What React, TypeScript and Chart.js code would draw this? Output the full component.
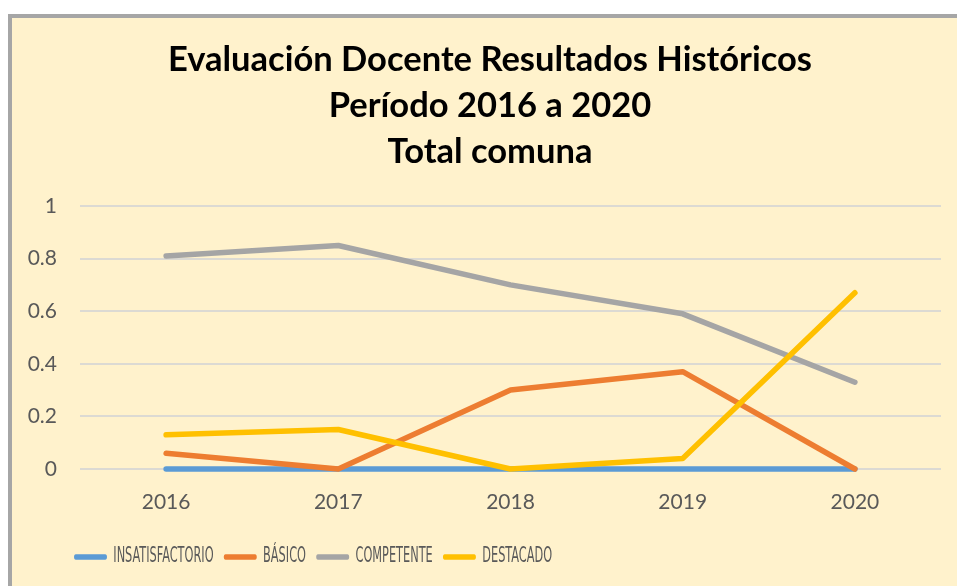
import React, { useEffect, useRef } from "react";
import { Chart, registerables } from "chart.js";

Chart.register(...registerables);

const years = ["2016", "2017", "2018", "2019", "2020"];
const insatisfactorio = [0, 0, 0, 0, 0];
const basico = [0.06, 0, 0.30, 0.37, 0];
const competente = [0.81, 0.85, 0.70, 0.59, 0.33];
const destacado = [0.13, 0.15, 0, 0.04, 0.67];
const seriesNames = ["INSATISFACTORIO", "BÁSICO", "COMPETENTE", "DESTACADO"];
const seriesColors = ["#5B9BD5", "#ED7D31", "#A5A5A5", "#FFC000"];
const titleLines = [
  "Evaluación Docente Resultados Históricos",
  "Período 2016 a 2020",
  "Total comuna",
];

const LEGEND_SQUEEZE = 0.6;
const LEGEND_PAD = 17;

const boxShift = {
  id: "boxShift",
  afterLayout(chart: any) {
    const l = chart.legend;
    if (l && !l.__squeezed) {
      l.__squeezed = true;
      const orig = l.draw.bind(l);
      l.draw = (area: any) => {
        const ctx = chart.ctx;
        const x0 = l.left + LEGEND_PAD;
        ctx.save();
        ctx.translate(62, 0);
        ctx.scale(LEGEND_SQUEEZE, 1);
        ctx.translate(-x0, 0);
        orig(area);
        ctx.restore();
      };
    }
    const t = chart.titleBlock;
    if (t) {
      t.left += 13.5;
      t.right += 13.5;
    }
  },
};

export default function App() {
  const ref = useRef<HTMLCanvasElement | null>(null);
  useEffect(() => {
    if (!ref.current) return;
    const values = [insatisfactorio, basico, competente, destacado];
    const chart = new Chart(ref.current, {
      type: "line",
      data: {
        labels: years,
        datasets: values.map((v, i) => ({
          label: seriesNames[i],
          data: v,
          borderColor: seriesColors[i],
          backgroundColor: seriesColors[i],
          borderWidth: 5.5,
          borderCapStyle: "round",
          borderJoinStyle: "round",
          pointRadius: 0,
          tension: 0,
          clip: false,
          order: 4 - i,
        })),
      },
      plugins: [boxShift],
      options: {
        responsive: false,
        animation: false,
        layout: { padding: { left: 0, right: 16, top: 0, bottom: 8.5 } },
        plugins: {
          title: {
            display: true,
            text: titleLines,
            color: "#000000",
            font: { family: "Lato", size: 34.5, weight: "bold", lineHeight: 46 / 34.5 },
            padding: { top: 19, bottom: 31 },
          },
          legend: {
            display: true,
            position: "bottom",
            align: "start",
            labels: {
              boxWidth: 55,
              boxHeight: 5.5,
              padding: LEGEND_PAD,
              useBorderRadius: true,
              borderRadius: 3,
              color: "#595959",
              font: { family: "'DejaVu Sans Condensed', 'DejaVu Sans', sans-serif", size: 21 },
              generateLabels: (c: any) =>
                c.data.datasets.map((ds: any, i: number) => ({
                  text: ds.label,
                  fillStyle: ds.borderColor,
                  strokeStyle: ds.borderColor,
                  lineWidth: 0,
                  hidden: false,
                  datasetIndex: i,
                  fontColor: "#595959",
                  borderRadius: 3,
                })),
            },
          },
          tooltip: { enabled: false },
        },
        scales: {
          x: {
            offset: true,
            grid: { display: false, drawTicks: false },
            border: { display: false },
            ticks: {
              color: "#595959",
              padding: 21,
              font: { family: "Lato", size: 21 },
            },
            afterFit: (s: any) => {
              s.height = 60.5;
            },
          },
          y: {
            min: 0,
            max: 1,
            grid: { color: "#DCDAD3", lineWidth: 2, drawTicks: false },
            border: { display: false },
            ticks: {
              stepSize: 0.2,
              color: "#595959",
              padding: 23,
              font: { family: "Lato", size: 21 },
              callback: (v: any) => String(Math.round(Number(v) * 10) / 10),
            },
            afterFit: (s: any) => {
              s.width = 68;
            },
          },
        },
      },
    } as any);
    return () => chart.destroy();
  }, []);

  return (
    <div
      style={{
        position: "fixed",
        left: 8,
        top: 14,
        width: 949,
        height: 572,
        boxSizing: "border-box",
        borderLeft: "4px solid #A6A6A6",
        borderTop: "4px solid #A6A6A6",
        background: "#FFF2CC",
        overflow: "hidden",
      }}
    >
      <canvas ref={ref} width={945} height={568} style={{ display: "block" }} />
    </div>
  );
}
